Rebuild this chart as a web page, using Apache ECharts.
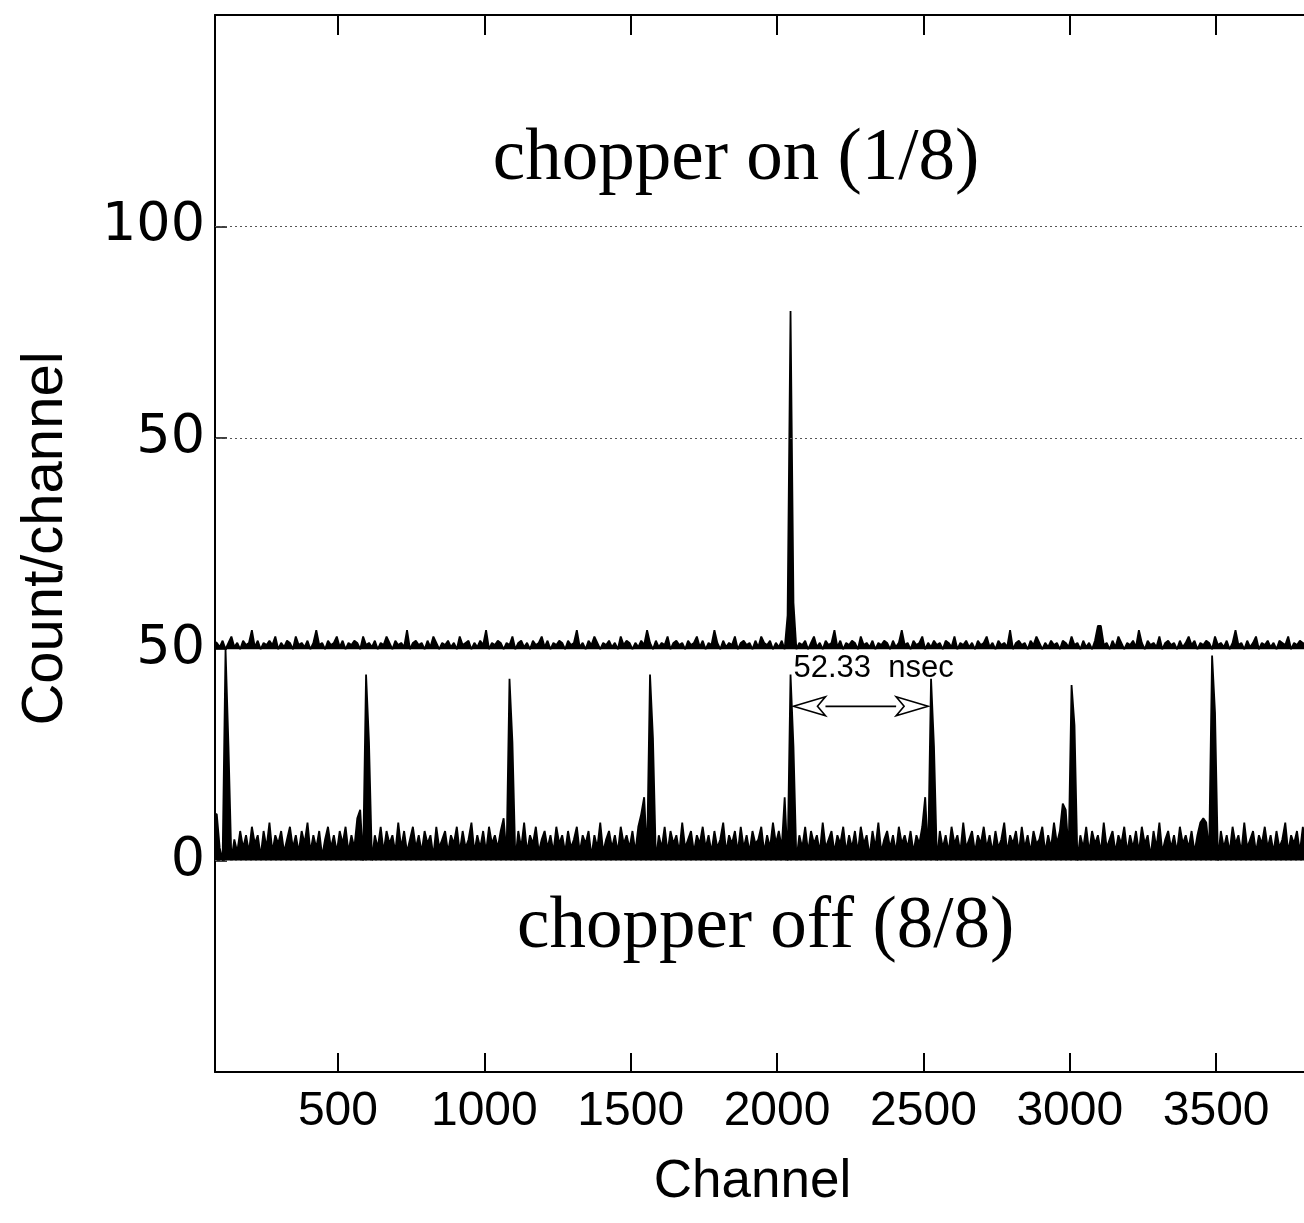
<!DOCTYPE html>
<html>
<head>
<meta charset="utf-8">
<script src="https://cdn.jsdelivr.net/npm/echarts@6/dist/echarts.min.js"></script>
<style>
html,body{margin:0;padding:0;background:#fff;}
#chart{width:1304px;height:1223px;}
</style>
</head>
<body>
<div id="chart"></div>
<script>
// ---- data ----
const chStart = 76;       // first channel of the traces
const chStep = 10;        // channel spacing of the samples
const xTicks = [500, 1000, 1500, 2000, 2500, 3000, 3500];
const yTickValues = [0, 50, 100, 150];
const yTickLabels = ['0', '50', '50', '100'];
const upperOffset = 50;   // chopper-on trace is drawn shifted up by 50
const gridValues = [0, 100, 150];

// chopper off (8/8): counts per channel
const offCounts = [
  11, 11, 3, 0, 50, 27, 0, 5, 2, 7, 3, 6, 2, 8, 4, 6, 1, 7, 3, 9,
  2, 6, 4, 7, 2, 5, 8, 3, 6, 2, 7, 4, 9, 2, 6, 3, 7, 1, 5, 8,
  3, 6, 2, 7, 4, 8, 2, 6, 3, 10, 12, 0, 44, 28, 0, 6, 3, 8, 2, 7,
  4, 6, 2, 9, 3, 7, 2, 5, 8, 3, 6, 2, 7, 4, 6, 1, 8, 3, 5, 7,
  2, 6, 4, 8, 2, 7, 3, 5, 9, 2, 6, 3, 7, 2, 8, 4, 6, 3, 7, 10,
  1, 43, 28, 0, 7, 3, 9, 2, 6, 4, 8, 2, 5, 7, 3, 6, 2, 8, 4, 6,
  2, 7, 3, 5, 8, 2, 6, 4, 7, 1, 6, 3, 9, 2, 5, 7, 3, 6, 2, 8,
  4, 6, 3, 7, 2, 8, 11, 15, 1, 44, 29, 0, 6, 3, 8, 2, 7, 4, 6, 2,
  9, 3, 5, 7, 2, 6, 4, 8, 3, 6, 2, 7, 3, 5, 9, 2, 6, 4, 7, 2,
  8, 3, 6, 2, 7, 4, 5, 8, 2, 6, 3, 9, 4, 7, 3, 15, 0, 44, 27, 0,
  6, 3, 8, 2, 7, 4, 6, 2, 9, 3, 5, 7, 2, 6, 4, 8, 2, 6, 3, 7,
  2, 8, 4, 6, 1, 7, 3, 9, 2, 5, 7, 3, 6, 2, 8, 4, 6, 3, 7, 2,
  6, 4, 8, 15, 1, 43, 27, 0, 7, 3, 6, 2, 8, 4, 6, 2, 9, 3, 5, 7,
  2, 6, 4, 8, 3, 6, 2, 7, 3, 5, 9, 2, 6, 4, 7, 2, 8, 3, 6, 2,
  7, 4, 5, 8, 2, 6, 3, 9, 4, 7, 13.5, 12, 2, 41.5, 32, 0, 6, 3, 8, 2,
  7, 4, 6, 2, 9, 3, 5, 7, 2, 6, 4, 8, 2, 6, 3, 7, 2, 8, 4, 6,
  1, 7, 3, 9, 2, 5, 7, 3, 6, 2, 8, 4, 6, 3, 7, 2, 6, 9, 10, 9,
  2, 48.5, 35, 0, 7, 3, 6, 2, 8, 4, 6, 2, 9, 3, 5, 7, 2, 6, 4, 8,
  3, 6, 2, 7, 3, 5, 9, 2, 6, 4, 7, 2, 8, 3
];

// chopper on (1/8): counts per channel
const onCounts = [
  2, 1.5, 0.5, 2, 0, 1.5, 3, 0.5, 1.5, 0, 2, 1, 1.5, 4.5, 0.5, 2, 0, 1.5, 1, 2,
  1, 3, 0, 1.5, 0.5, 2, 1.5, 0, 3, 1, 1.5, 0.5, 2, 0, 1.5, 4.5, 1, 1.5, 0, 2,
  1, 1.5, 3, 0.5, 2, 0, 1.5, 1, 2, 1.5, 0, 3, 1, 1.5, 0.5, 2, 0, 1.5, 1, 3,
  1.5, 0, 2, 1, 1.5, 0.5, 4.5, 0, 1.5, 2, 1, 1.5, 0, 2, 0.5, 3, 1.5, 0, 1.5, 1,
  2, 0.5, 1.5, 0, 3, 1, 1.5, 2, 0, 1.5, 0.5, 2, 1, 4.5, 0, 1.5, 1, 2, 1.5, 0,
  1.5, 1, 3, 0, 1.5, 2, 0.5, 1.5, 0, 2, 1, 1.5, 3, 0.5, 2, 0, 1.5, 1, 2, 1.5,
  0, 2, 1, 1.5, 4.5, 0.5, 1.5, 0, 2, 1, 3, 1.5, 0, 1.5, 1, 2, 0.5, 1.5, 0, 3,
  1, 2, 1.5, 0, 1.5, 0.5, 2, 1, 4.5, 1.5, 0, 2, 0.5, 1.5, 1, 3, 0, 1.5, 2, 1,
  1.5, 0, 2, 1, 1.5, 3, 0.5, 2, 0, 1.5, 1, 4.5, 1.5, 0, 2, 0.5, 1.5, 1, 3, 0,
  1.5, 2, 1, 1.5, 0, 2, 0.5, 3, 1.5, 1, 2, 0, 1.5, 0.5, 2, 0, 8, 80, 11, 0,
  1.5, 1, 2, 0, 1.5, 3, 0.5, 1.5, 0, 2, 1, 1.5, 4.5, 0.5, 2, 0, 1.5, 1, 2, 1.5,
  0, 3, 1, 1.5, 0.5, 2, 0, 1.5, 1, 2, 1.5, 0, 2, 0.5, 1.5, 4.5, 1, 1.5, 0, 2,
  1, 1.5, 3, 0, 1.5, 0.5, 2, 1, 1.5, 0, 2, 1.5, 0.5, 3, 0, 1.5, 1, 2, 0.5, 1.5,
  0, 2, 1, 1.5, 3, 0.5, 1.5, 0, 2, 1, 1.5, 0.5, 4.5, 0, 1.5, 2, 1, 1.5, 0, 2,
  1, 3, 1.5, 0, 1.5, 0.5, 2, 1, 1.5, 0, 2, 1.5, 0.5, 3, 1, 1.5, 0, 2, 0.5, 1.5,
  0, 2, 5.5, 5.5, 1, 1.5, 0, 2, 0.5, 3, 1.5, 0, 1.5, 1, 2, 0.5, 4.5, 1.5, 0, 2,
  1, 1.5, 0.5, 3, 0, 1.5, 2, 1, 1.5, 0, 2, 0.5, 1.5, 3, 1, 2, 0, 1.5, 1, 2,
  1.5, 0, 3, 1, 1.5, 0.5, 2, 0, 1.5, 4.5, 1, 1.5, 0, 2, 0.5, 1.5, 3, 0, 1.5, 1,
  2, 0.5, 1.5, 0, 2, 1.5, 1, 3, 0, 1.5, 1, 2, 1.5, 1
];

// period annotation (channels of the arrow tips, level in plot units)
const arrowChannels = [2056, 2516];
const arrowLevel = 36.5;

// text annotations
const noteTexts = ['chopper on (1/8)', 'chopper off (8/8)', '52.33  nsec'];
const noteChannels = [1860, 1961, 2056];
const noteLevels = [165.7, -15.9, 45.5];

// ---- build the chart ----
const offData = offCounts.map((v, i) => [chStart + i * chStep, v]);
const onData = onCounts.map((v, i) => [chStart + i * chStep, v + upperOffset]);

const serifFont = '"Liberation Serif", "Times New Roman", serif';
const sansFont = '"Liberation Sans", Arial, sans-serif';
const ink = '#000';

const chart = echarts.init(document.getElementById('chart'), null, {renderer: 'canvas'});

const noteStyles = [
  {position: 'inside', fontFamily: serifFont, fontSize: 73, align: 'center'},
  {position: 'inside', fontFamily: serifFont, fontSize: 73, align: 'center'},
  {position: 'right', distance: 0, fontFamily: sansFont, fontSize: 31, align: 'left'}
];

const xAxisCommon = {
  type: 'value', min: 80, max: 3800,
  axisLine: {show: true, onZero: false, lineStyle: {color: ink, width: 2}},
  splitLine: {show: false}
};

const option = {
  animation: false,
  backgroundColor: '#fff',
  grid: {left: 215, right: -3, top: 15, bottom: 151, containLabel: false},
  xAxis: [
    Object.assign({}, xAxisCommon, {
      position: 'bottom',
      axisTick: {show: true, inside: true, length: 19, lineStyle: {color: ink, width: 2}, customValues: xTicks},
      axisLabel: {show: true, customValues: xTicks, fontSize: 48, fontFamily: sansFont, color: ink, margin: 16,
        formatter: function (v) { return String(v); }},
      name: 'Channel', nameLocation: 'middle', nameGap: 84,
      nameTextStyle: {fontSize: 53, fontFamily: sansFont, color: ink, padding: [0, 14, 0, 0]}
    }),
    Object.assign({}, xAxisCommon, {
      position: 'top',
      axisTick: {show: true, inside: true, length: 20, lineStyle: {color: ink, width: 2}, customValues: xTicks},
      axisLabel: {show: false}
    })
  ],
  yAxis: {
    type: 'value', min: -50, max: 200, interval: 50,
    axisLine: {show: true, onZero: false, lineStyle: {color: ink, width: 2}},
    axisTick: {show: true, inside: true, length: 12, lineStyle: {color: ink, width: 1.5}, customValues: yTickValues},
    axisLabel: {
      show: true, customValues: yTickValues, fontSize: 54, fontFamily: '"DejaVu Sans", sans-serif', color: ink, margin: 10,
      formatter: function (v) { const k = yTickValues.indexOf(v); return k >= 0 ? yTickLabels[k] : ''; }
    },
    splitLine: {show: false},
    name: 'Count/channel', nameLocation: 'middle', nameGap: 140,
    nameTextStyle: {fontSize: 58, fontFamily: sansFont, color: ink, padding: [0, 0, 0, 10]}
  },
  series: [
    {
      name: 'grid', type: 'line', data: [], z: 1, silent: true,
      markLine: {
        silent: true, symbol: 'none', label: {show: false},
        lineStyle: {color: '#555', type: [2, 3], width: 1},
        data: gridValues.map(v => ({yAxis: v}))
      }
    },
    {
      name: 'chopper off', type: 'line', data: offData, showSymbol: false, z: 3,
      lineStyle: {color: ink, width: 1.8}, clip: true,
      areaStyle: {color: ink, opacity: 1, origin: 0}
    },
    {
      name: 'chopper on', type: 'line', data: onData, showSymbol: false, z: 3,
      lineStyle: {color: ink, width: 1.8}, clip: true,
      areaStyle: {color: ink, opacity: 1, origin: upperOffset}
    },
    {
      name: 'period', type: 'custom', z: 4, silent: true,
      data: [[arrowChannels[0], arrowChannels[1], arrowLevel]],
      encode: {x: [0, 1], y: 2},
      renderItem: function (params, api) {
        const p1 = api.coord([api.value(0), api.value(2)]);
        const p2 = api.coord([api.value(1), api.value(2)]);
        const L = 32, H = 9.5;
        const stroke = {stroke: ink, lineWidth: 1.6, fill: '#fff'};
        return {
          type: 'group',
          children: [
            {type: 'line', shape: {x1: p1[0] + L, y1: p1[1], x2: p2[0] - L, y2: p2[1]}, style: {stroke: ink, lineWidth: 1.8}},
            {type: 'polygon', shape: {points: [[p1[0], p1[1]], [p1[0] + L, p1[1] - H], [p1[0] + L - 8, p1[1]], [p1[0] + L, p1[1] + H]]}, style: stroke},
            {type: 'polygon', shape: {points: [[p2[0], p2[1]], [p2[0] - L, p2[1] - H], [p2[0] - L + 8, p2[1]], [p2[0] - L, p2[1] + H]]}, style: stroke}
          ]
        };
      }
    },
    {
      name: 'notes', type: 'scatter', z: 5, silent: true, symbolSize: 0,
      itemStyle: {opacity: 1, color: 'transparent'},
      data: noteTexts.map((t, i) => ({
        value: [noteChannels[i], noteLevels[i]],
        label: Object.assign({show: true, formatter: t, color: ink, opacity: 1, verticalAlign: 'middle'}, noteStyles[i])
      }))
    }
  ]
};
chart.setOption(option);
</script>
</body>
</html>
